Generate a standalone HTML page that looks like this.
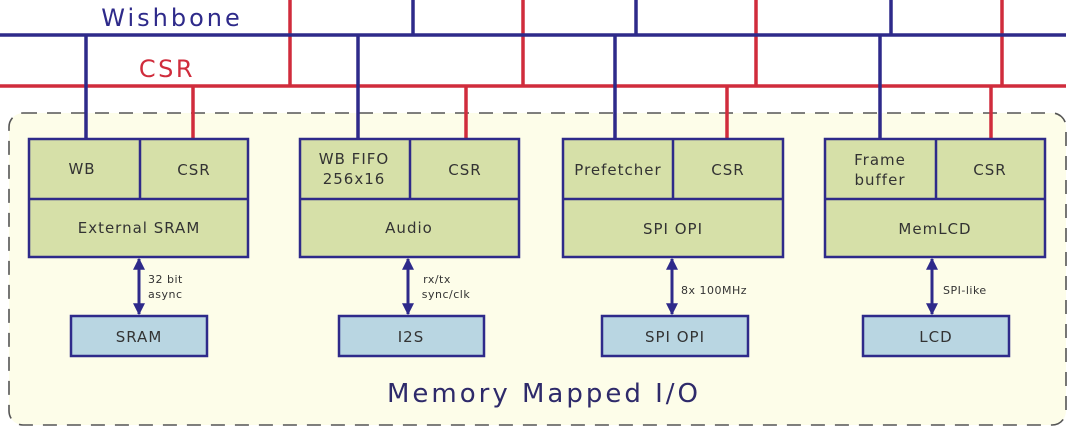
<!DOCTYPE html>
<html><head><meta charset="utf-8"><style>
html,body{margin:0;padding:0;background:#fff;}
svg{display:block;}
text{font-family:"DejaVu Sans","Liberation Sans",sans-serif;fill:#333;}
</style></head><body>
<svg width="1080" height="445" viewBox="0 0 1080 445" xmlns="http://www.w3.org/2000/svg">
<defs>
<marker id="ah" viewBox="0 0 10 10" refX="9" refY="5" markerWidth="4" markerHeight="4" orient="auto-start-reverse">
<path d="M0,0 L10,5 L0,10 z" fill="#2e2a8a"/></marker>
</defs>
<rect x="9" y="113" width="1057" height="312" rx="14" fill="#fdfde9" stroke="#555" stroke-width="1.6" stroke-dasharray="14,10"/>
<g stroke-width="3.5">
<line x1="290" y1="0" x2="290" y2="86" stroke="#d02c3c"/>
<line x1="523" y1="0" x2="523" y2="86" stroke="#d02c3c"/>
<line x1="756" y1="0" x2="756" y2="86" stroke="#d02c3c"/>
<line x1="1002" y1="0" x2="1002" y2="86" stroke="#d02c3c"/>
<line x1="413" y1="0" x2="413" y2="35" stroke="#2e2a8a"/>
<line x1="636" y1="0" x2="636" y2="35" stroke="#2e2a8a"/>
<line x1="891" y1="0" x2="891" y2="35" stroke="#2e2a8a"/>
<line x1="0" y1="35" x2="1066" y2="35" stroke="#2e2a8a"/>
<line x1="0" y1="86" x2="1066" y2="86" stroke="#d02c3c"/>
<line x1="86" y1="35" x2="86" y2="140" stroke="#2e2a8a"/>
<line x1="358" y1="35" x2="358" y2="140" stroke="#2e2a8a"/>
<line x1="615" y1="35" x2="615" y2="140" stroke="#2e2a8a"/>
<line x1="880" y1="35" x2="880" y2="140" stroke="#2e2a8a"/>
<line x1="193" y1="86" x2="193" y2="140" stroke="#d02c3c"/>
<line x1="466" y1="86" x2="466" y2="140" stroke="#d02c3c"/>
<line x1="727" y1="86" x2="727" y2="140" stroke="#d02c3c"/>
<line x1="991" y1="86" x2="991" y2="140" stroke="#d02c3c"/>
</g>
<text x="172" y="26" font-size="24" text-anchor="middle" style="fill:#2e2a8a;letter-spacing:3px">Wishbone</text>
<text x="167" y="77" font-size="24" text-anchor="middle" style="fill:#d02c3c;letter-spacing:2.5px">CSR</text>
<g fill="#d6e0a8" stroke="#2e2a8a" stroke-width="2.5">
<rect x="29" y="139" width="219" height="118"/><line x1="29" y1="199" x2="248" y2="199"/><line x1="140" y1="139" x2="140" y2="199"/>
<rect x="300" y="139" width="219" height="118"/><line x1="300" y1="199" x2="519" y2="199"/><line x1="410" y1="139" x2="410" y2="199"/>
<rect x="563" y="139" width="220" height="118"/><line x1="563" y1="199" x2="783" y2="199"/><line x1="673" y1="139" x2="673" y2="199"/>
<rect x="825" y="139" width="220" height="118"/><line x1="825" y1="199" x2="1045" y2="199"/><line x1="936" y1="139" x2="936" y2="199"/>
</g>
<g fill="#b9d6e2" stroke="#2e2a8a" stroke-width="2.5">
<rect x="71" y="316" width="136" height="40"/>
<rect x="339" y="316" width="145" height="40"/>
<rect x="602" y="316" width="146" height="40"/>
<rect x="863" y="316" width="146" height="40"/>
</g>
<g stroke="#2e2a8a" stroke-width="3" marker-start="url(#ah)" marker-end="url(#ah)">
<line x1="139" y1="259" x2="139" y2="314"/>
<line x1="408" y1="259" x2="408" y2="314"/>
<line x1="672" y1="259" x2="672" y2="314"/>
<line x1="932" y1="259" x2="932" y2="314"/>
</g>
<g font-size="15" text-anchor="middle" style="letter-spacing:1px">
<text x="82" y="174">WB</text><text x="194" y="175">CSR</text>
<text x="139" y="233">External SRAM</text>
<text x="354" y="164">WB FIFO</text><text x="354" y="184">256x16</text><text x="465" y="175">CSR</text>
<text x="409" y="233">Audio</text>
<text x="618" y="175">Prefetcher</text><text x="728" y="175">CSR</text>
<text x="673" y="234">SPI OPI</text>
<text x="880" y="165">Frame</text><text x="880" y="185">buffer</text><text x="990" y="175">CSR</text>
<text x="935" y="234">MemLCD</text>
<text x="139" y="342">SRAM</text><text x="411" y="342">I2S</text>
<text x="675" y="342">SPI OPI</text><text x="936" y="342">LCD</text>
</g>
<g font-size="11" style="letter-spacing:0.5px">
<text x="148" y="283">32 bit</text><text x="148" y="298">async</text>
<text x="437" y="283" text-anchor="middle">rx/tx</text><text x="446" y="298" text-anchor="middle">sync/clk</text>
<text x="681" y="294">8x 100MHz</text>
<text x="943" y="294">SPI-like</text>
</g>
<text x="544" y="402" font-size="26" text-anchor="middle" style="fill:#2e2a6a;letter-spacing:3px">Memory Mapped I/O</text>
</svg>
</body></html>
